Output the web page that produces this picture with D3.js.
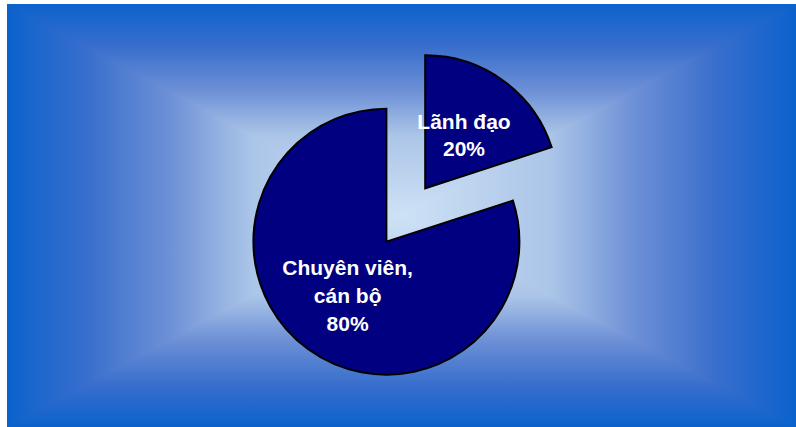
<!DOCTYPE html>
<html>
<head>
<meta charset="utf-8">
<script src="https://cdn.jsdelivr.net/npm/d3@7/dist/d3.min.js"></script>
<style>
  html, body { margin: 0; padding: 0; background: #ffffff; }
  svg { display: block; }
</style>
</head>
<body>
<svg id="chart" width="796" height="427"></svg>
<script>
// Staff structure: share of leadership vs. specialists/officers
const categories = ["Lãnh đạo", "Chuyên viên, cán bộ"];
const values = [20, 80];
// Label lines for each slice (name split over lines, then percentage)
const labelLines = [["Lãnh đạo"], ["Chuyên viên,", "cán bộ"]];

const W = 796, H = 427;
const svg = d3.select("#chart");

// Panel background: rectangular "from centre" gradient.
// A mirrored horizontal gradient covers the panel; top and bottom triangles
// with vertical gradients are laid over it so the seams run corner to centre.
const bx0 = 7, by0 = 4, bx1 = 796, by1 = 427;
const cx = (bx0 + bx1) / 2, cy = (by0 + by1) / 2;
const stops = [
  { o: 0.00, c: "#0b62cc" },
  { o: 0.20, c: "#386ecc" },
  { o: 0.41, c: "#6d90d6" },
  { o: 0.62, c: "#abc5e8" },
  { o: 1.00, c: "#cee2f5" }
];
const defs = svg.append("defs");

const gH = defs.append("linearGradient")
  .attr("id", "gH")
  .attr("gradientUnits", "userSpaceOnUse")
  .attr("x1", bx0).attr("y1", cy).attr("x2", bx1).attr("y2", cy);
stops.forEach(st => gH.append("stop").attr("offset", st.o / 2).attr("stop-color", st.c));
stops.slice().reverse().forEach(st => gH.append("stop").attr("offset", 1 - st.o / 2).attr("stop-color", st.c));

const tris = [
  { id: "gT", x1: cx, y1: by0, x2: cx, y2: cy, pts: [[bx0, by0], [bx1, by0], [cx, cy]] },
  { id: "gB", x1: cx, y1: by1, x2: cx, y2: cy, pts: [[bx0, by1], [bx1, by1], [cx, cy]] }
];
tris.forEach(s => {
  const g = defs.append("linearGradient")
    .attr("id", s.id)
    .attr("gradientUnits", "userSpaceOnUse")
    .attr("x1", s.x1).attr("y1", s.y1).attr("x2", s.x2).attr("y2", s.y2);
  stops.forEach(st => g.append("stop").attr("offset", st.o).attr("stop-color", st.c));
});

const bg = svg.append("g");
bg.append("rect")
  .attr("x", bx0).attr("y", by0)
  .attr("width", bx1 - bx0).attr("height", by1 - by0)
  .attr("fill", "url(#gH)");
tris.forEach(s => {
  bg.append("path")
    .attr("d", "M" + s.pts.map(p => p.join(",")).join("L") + "Z")
    .attr("fill", `url(#${s.id})`);
});

// Pie
const R = 133;
const explode = 33;
const labelR = 66;
const pcx = 405.8, pcy = 215;

const pie = d3.pie().sort(null).value(d => d).startAngle(0).endAngle(2 * Math.PI);
const arc = d3.arc().innerRadius(0).outerRadius(R);
const arcs = pie(values);

const slices = svg.append("g")
  .selectAll("g.slice")
  .data(arcs)
  .join("g")
  .attr("class", "slice")
  .attr("transform", d => {
    const a = (d.startAngle + d.endAngle) / 2;
    return `translate(${pcx + explode * Math.sin(a)},${pcy - explode * Math.cos(a)})`;
  });

slices.append("path")
  .attr("d", arc)
  .attr("fill", "#000080")
  .attr("stroke", "#000000")
  .attr("stroke-width", 2)
  .attr("stroke-linejoin", "miter");

const total = d3.sum(values);
const fontSize = 21, capH = 15;
slices.each(function (d, i) {
  const a = (d.startAngle + d.endAngle) / 2;
  const lx = labelR * Math.sin(a), ly = -labelR * Math.cos(a);
  const lines = labelLines[i].concat([Math.round(d.data / total * 100) + "%"]);
  const L = lines.length > 2 ? 28 : 27;
  const base0 = ly - ((lines.length - 1) * L - capH) / 2;
  const t = d3.select(this).append("text")
    .attr("text-anchor", "middle")
    .attr("font-family", "'Liberation Sans', Arial, sans-serif")
    .attr("font-weight", "bold")
    .attr("font-size", fontSize)
    .attr("fill", "#ffffff");
  lines.forEach((ln, k) => {
    t.append("tspan").attr("x", lx).attr("y", base0 + k * L).text(ln);
  });
});
</script>
</body>
</html>
